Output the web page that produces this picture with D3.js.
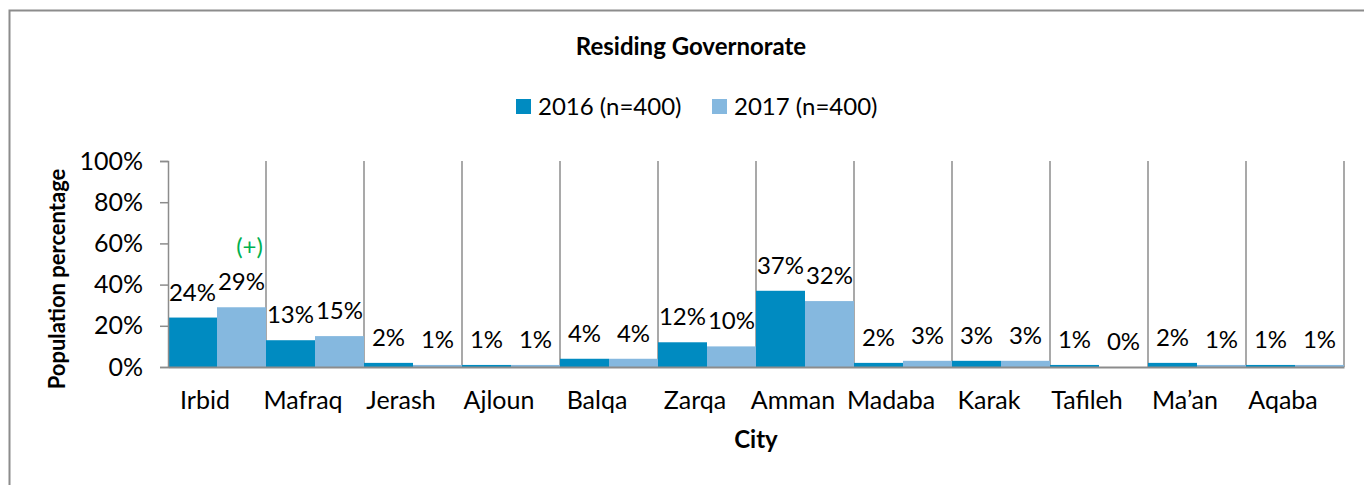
<!DOCTYPE html>
<html>
<head>
<meta charset="utf-8">
<script src="https://cdn.jsdelivr.net/npm/d3@7"></script>
<style>
  body { margin: 0; background: #fff; }
  svg text { font-family: Lato, Carlito, "Open Sans", sans-serif; }
</style>
</head>
<body>
<div id="chart"></div>
<script>
// chart data
var cities = ["Irbid", "Mafraq", "Jerash", "Ajloun", "Balqa", "Zarqa", "Amman", "Madaba", "Karak", "Tafileh", "Ma\u2019an", "Aqaba"];
var seriesNames = ["2016 (n=400)", "2017 (n=400)"];
var values2016 = [24, 13, 2, 1, 4, 12, 37, 2, 3, 1, 2, 1];
var values2017 = [29, 15, 1, 1, 4, 10, 32, 3, 3, 0, 1, 1];
var yTicks = [0, 20, 40, 60, 80, 100];
var notes = [{ city: "Irbid", series: 1, text: "(+)" }];

var colors = ["#008BC1", "#85B8DF"];

var svgWidth = 1364;
var svgHeight = 485;
var fs = 25; // axis font size

var margin = { top: 161, right: 20, bottom: 118, left: 168 };
var width = 1344 - margin.left;
var height = 367 - margin.top;

var svg = d3.select("#chart")
    .append("svg")
    .attr("width", svgWidth)
    .attr("height", svgHeight);

// outer frame (runs off the right and bottom edges)
svg.append("rect")
    .attr("x", 9.5)
    .attr("y", 10.5)
    .attr("width", 1500)
    .attr("height", 800)
    .attr("fill", "none")
    .attr("stroke", "#8c8c8c")
    .attr("stroke-width", 2);

// title
svg.append("text")
    .attr("x", 691)
    .attr("y", 55)
    .attr("text-anchor", "middle")
    .attr("font-weight", "bold")
    .attr("font-size", 24)
    .text("Residing Governorate");

// legend
var legendX = [516, 712];
seriesNames.forEach(function(name, i) {
    svg.append("rect")
        .attr("x", legendX[i])
        .attr("y", 99)
        .attr("width", 15)
        .attr("height", 15)
        .attr("fill", colors[i]);
    svg.append("text")
        .attr("x", legendX[i] + 22)
        .attr("y", 115)
        .attr("font-size", 24)
        .text(name);
});

var chartGroup = svg.append("g").attr("transform", `translate(${margin.left}, ${margin.top})`);

// scales
var xScale = d3.scaleBand()
    .domain(cities)
    .range([0, width])
    .padding(0);

var subScale = d3.scaleBand()
    .domain([0, 1])
    .range([0, xScale.bandwidth()])
    .padding(0);

var yScale = d3.scaleLinear()
    .domain([0, 100])
    .range([height, 0]);

// vertical separators between cities
var bounds = cities.map(d => xScale(d)).concat([width]);
chartGroup.selectAll(".sep")
    .data(bounds.slice(1))
    .enter()
    .append("line")
    .attr("class", "sep")
    .attr("x1", d => d)
    .attr("x2", d => d)
    .attr("y1", yScale(100))
    .attr("y2", height)
    .attr("stroke", "#8c8c8c")
    .attr("stroke-width", 1.5);

// bars
var rows = [];
cities.forEach(function(c, i) {
    rows.push({ city: c, s: 0, v: values2016[i] });
    rows.push({ city: c, s: 1, v: values2017[i] });
});

chartGroup.selectAll(".bar")
    .data(rows)
    .enter()
    .append("rect")
    .attr("class", "bar")
    .attr("x", d => xScale(d.city) + subScale(d.s))
    .attr("width", subScale.bandwidth())
    .attr("y", d => yScale(d.v))
    .attr("height", d => height - yScale(d.v))
    .attr("fill", d => colors[d.s]);

// value labels
chartGroup.selectAll(".val")
    .data(rows)
    .enter()
    .append("text")
    .attr("class", "val")
    .attr("text-anchor", "middle")
    .attr("font-size", 24)
    .attr("x", d => xScale(d.city) + subScale(d.s) + subScale.bandwidth() / 2)
    .attr("y", d => yScale(d.v) - 17)
    .text(d => d.v + "%");

// significance notes
notes.forEach(function(n) {
    var i = cities.indexOf(n.city);
    var v = n.series === 0 ? values2016[i] : values2017[i];
    chartGroup.append("text")
        .attr("text-anchor", "middle")
        .attr("font-size", 24)
        .attr("fill", "#00B050")
        .attr("x", xScale(n.city) + subScale(n.series) + subScale.bandwidth() / 2 + 8)
        .attr("y", yScale(v) - 52)
        .text(n.text);
});

// y axis
var leftAxis = d3.axisLeft(yScale)
    .tickValues(yTicks)
    .tickFormat(d => d + "%")
    .tickSize(8)
    .tickPadding(17);

var yAxis = chartGroup.append("g").call(leftAxis).attr("font-family", null);
yAxis.select(".domain").attr("stroke", "#8c8c8c").attr("stroke-width", 1.5);
yAxis.selectAll(".tick line").attr("stroke", "#8c8c8c").attr("stroke-width", 1.5);
yAxis.selectAll("text")
    .attr("font-size", fs)
    .attr("fill", "#000");

// x axis
var bottomAxis = d3.axisBottom(xScale).tickSize(0).tickPadding(24);
var xAxis = chartGroup.append("g")
    .attr("transform", `translate(0, ${height})`)
    .call(bottomAxis)
    .attr("font-family", null);
xAxis.select(".domain").attr("stroke", "#8c8c8c").attr("stroke-width", 2);
xAxis.selectAll("text")
    .attr("font-size", fs)
    .attr("fill", "#000")
    .attr("dx", -12);

// axis titles
svg.append("text")
    .attr("transform", "rotate(-90)")
    .attr("x", -279)
    .attr("y", 65)
    .attr("text-anchor", "middle")
    .attr("font-weight", "bold")
    .attr("font-size", 22)
    .text("Population percentage");

svg.append("text")
    .attr("x", 756)
    .attr("y", 448)
    .attr("text-anchor", "middle")
    .attr("font-weight", "bold")
    .attr("font-size", 24)
    .text("City");
</script>
</body>
</html>
